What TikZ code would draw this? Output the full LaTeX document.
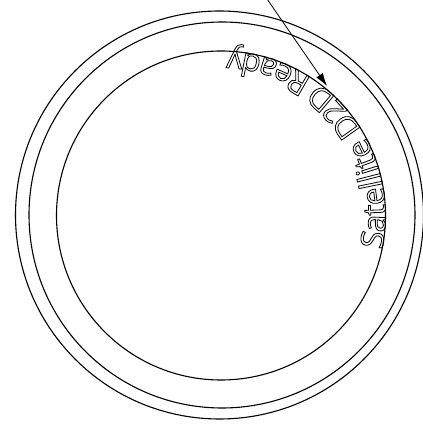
\documentclass[tikz,border=0pt]{standalone}
\usepackage{fontspec}
\setmainfont{Open Sans}
\usepackage{tikz}
\usetikzlibrary{arrows.meta,decorations.text}
\newcommand{\outlinetext}{\special{pdf:literal direct 1 Tr 0.8 w}\fontsize{31.5}{31.5}\selectfont}

\begin{document}
\begin{tikzpicture}[x=1pt, y=1pt,
    ring/.style={draw, line width=1.1pt},
    pointer/.style={-{Latex[length=13pt, width=8pt]}, line width=0.8pt}]

    \useasboundingbox (0,0) rectangle (423,424);

    \coordinate (ctr) at (220,209);
    \coordinate (src) at (265,428);
    \coordinate (tip) at (327,338);

    % rings
    \draw[ring] (219.5,209) circle[radius=204];
    \draw[ring] (222,209) circle[radius=193];
    \draw[ring] (221,208.5) circle[radius=164.5];

    % label along the inner ring
    \path[decorate, decoration={text along path, text align=left,
          text={|\outlinetext|Satellite D2D Ready}}]
      ([shift={(-12:164.5)}]221,208.5) arc[start angle=-12, end angle=110, radius=164.5];

    \draw[pointer] (src) -- (tip);
\end{tikzpicture}
\end{document}
